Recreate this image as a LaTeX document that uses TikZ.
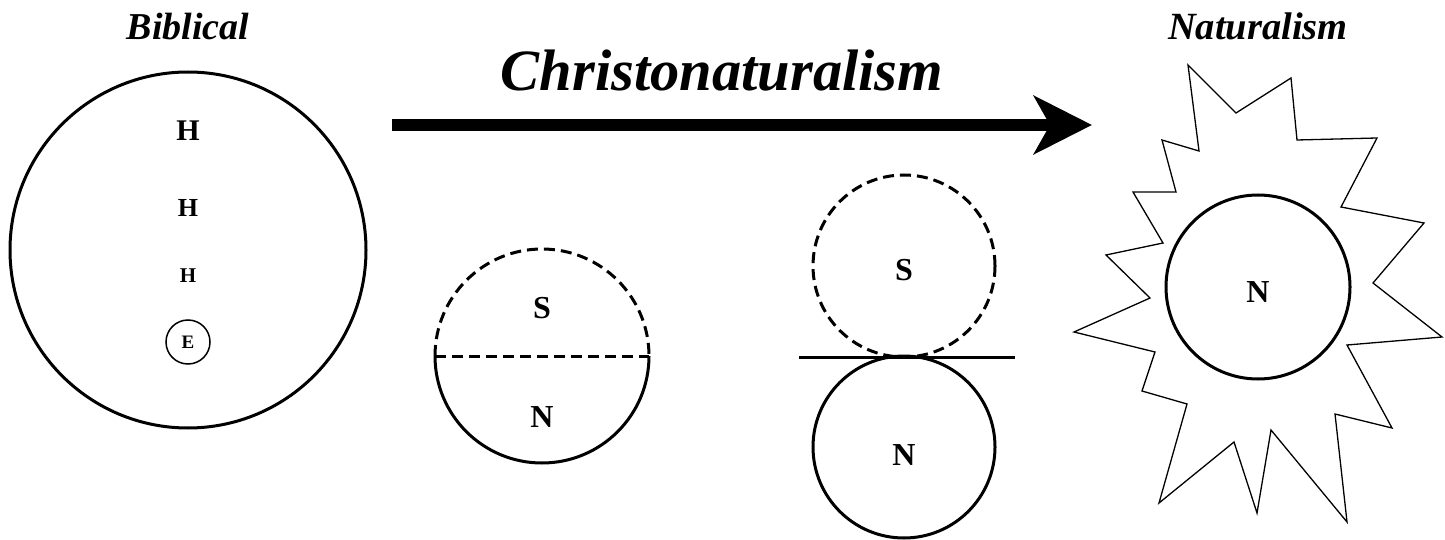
\documentclass[tikz,border=0pt]{standalone}
\usepackage{fontspec}
\setmainfont{Liberation Serif}
\usetikzlibrary{arrows.meta}
\begin{document}
\begin{tikzpicture}[x=1pt,y=-1pt,
  thickline/.style={line width=3pt},
  dashline/.style={line width=3pt, dash pattern=on 11pt off 6pt},
  ring/.style={draw, circle, inner sep=0pt},
  lbl/.style={font=\fontsize{#1}{#1}\selectfont\bfseries, inner sep=0pt},
  ttl/.style={font=\fontsize{#1}{#1}\selectfont\bfseries\itshape, inner sep=0pt, anchor=base}]
\useasboundingbox (0,0) rectangle (1445,540);
% titles
\node[ttl=38] (tbib) at (188,40) {Biblical};
\node[ttl=38.5] (tnat) at (1258,40) {Naturalism};
\node[ttl=58.5] (tchr) at (722,91) {Christonaturalism};
% biblical circle
\node[ring, thickline, minimum size=356pt] (world) at (188,250) {};
\node[lbl=30] (h1) at (188,131) {H};
\node[lbl=26] (h2) at (188,208) {H};
\node[lbl=21] (h3) at (188,276) {H};
\node[ring, line width=1.5pt, minimum size=44pt] (ering) at (188,342) {};
\node[lbl=19] (e) at (ering.center) {E};
% arrow
\coordinate (a0) at (392,125);
\coordinate (a1) at (1092,125);
\draw[line width=12pt, -{Stealth[length=58pt, width=58pt, inset=16pt]}] (a0) -- (a1);
% half circle
\coordinate (hc) at (542,356);
\coordinate (hl) at (435,356);
\coordinate (hr) at (649,356);
\draw[dashline] (hl) arc[start angle=180, end angle=360, radius=107];
\draw[thickline] (hr) arc[start angle=0, end angle=180, radius=107];
\draw[dashline] (hl) -- (hr);
\node[lbl=32] (s1) at (542,308) {S};
\node[lbl=32] (n1) at (542,417) {N};
% two circles
\node[ring, dashline, minimum size=182pt] (sc) at (904,266) {};
\node[ring, thickline, minimum size=182pt] (nc) at (904,447) {};
\coordinate (ll) at (799,357);
\coordinate (lr) at (1015,357);
\draw[line width=3pt] (ll) -- (lr);
\node[lbl=32] (s2) at (904,270) {S};
\node[lbl=32] (n2) at (904,455) {N};
% star
\draw[line width=1.3pt, line join=miter]
  (1188,65) -- (1236,113) -- (1291,78) -- (1297,140) -- (1377,138) -- (1341,207)
  -- (1424,223) -- (1373,283) -- (1442,337) -- (1347,345) -- (1392,428) -- (1335,414)
  -- (1347,522) -- (1271,430) -- (1257,513) -- (1234,442) -- (1159,503) -- (1187,404)
  -- (1142,391) -- (1155,352) -- (1074,332) -- (1150,298) -- (1106,255) -- (1163,243)
  -- (1133,192) -- (1176,192) -- (1162,140) -- (1199,151) -- cycle;
\node[ring, thickline, minimum size=184pt] (natc) at (1258,287) {};
\node[lbl=32] (n3) at (1258,292) {N};
\end{tikzpicture}
\end{document}
